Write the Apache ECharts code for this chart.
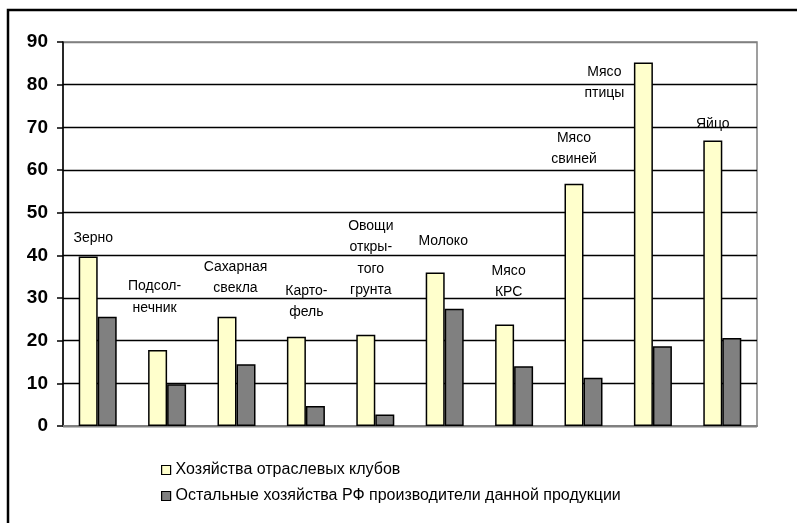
<!DOCTYPE html>
<html>
<head>
<meta charset="utf-8">
<script src="https://cdn.jsdelivr.net/npm/echarts@6/dist/echarts.min.js"></script>
<style>
html,body{margin:0;padding:0;background:#fff;}
#chart{width:797px;height:523px;}
</style>
</head>
<body>
<div id="chart"></div>
<script>
var categories = ['Зерно', 'Подсол-\nнечник', 'Сахарная\nсвекла', 'Карто-\nфель', 'Овощи\nоткры-\nтого\nгрунта', 'Молоко', 'Мясо\nКРС', 'Мясо\nсвиней', 'Мясо\nптицы', 'Яйцо'];
var clubFarms = [39.7, 17.8, 25.6, 20.9, 21.4, 36.0, 23.8, 56.8, 85.2, 66.9];
var otherFarms = [25.6, 9.8, 14.5, 4.7, 2.7, 27.5, 14.0, 11.3, 18.7, 20.6];
var yTicks = [0, 10, 20, 30, 40, 50, 60, 70, 80, 90];
var seriesNames = ['Хозяйства отраслевых клубов', 'Остальные хозяйства РФ производители данной продукции'];

// label placement (style only)
var labelOffsets = [[5, -7.5], [-3, -31.5], [8.5, -17.5], [10, -13.5], [5, -33.5], [8, -20.5], [4, -21.5], [0, -13.5], [-39, 41.5], [0, -5.5]];

var chart = echarts.init(document.getElementById('chart'));
var font = '"Liberation Sans", Arial, sans-serif';

var clubData = clubFarms.map(function (v, i) {
  return {
    value: v,
    label: {
      show: true,
      position: 'top',
      distance: 0,
      offset: labelOffsets[i],
      formatter: categories[i]
    }
  };
});

var option = {
  animation: false,
  backgroundColor: '#fff',
  textStyle: { fontFamily: font },
  grid: { left: 63, right: 40, top: 42, bottom: 97, show: true, borderColor: '#808080', borderWidth: 1.5, backgroundColor: 'transparent' },
  legend: {
    orient: 'vertical',
    left: 156,
    top: 456,
    itemWidth: 9,
    itemHeight: 9,
    itemGap: 8,
    icon: 'rect',
    textStyle: { fontFamily: font, fontSize: 16, color: '#000', lineHeight: 18 },
    itemStyle: { borderColor: '#000', borderWidth: 1.2 },
    data: seriesNames
  },
  xAxis: {
    type: 'category',
    data: categories,
    axisLine: { show: true, lineStyle: { color: '#808080', width: 2 } },
    axisTick: { show: false },
    axisLabel: { show: false },
    splitLine: { show: false }
  },
  yAxis: {
    type: 'value',
    min: 0,
    max: 90,
    interval: 10,
    axisLine: { show: true, lineStyle: { color: '#000', width: 1.5 } },
    axisTick: { show: true, length: 6, inside: false, lineStyle: { color: '#000', width: 1.5 } },
    axisLabel: {
      margin: 15,
      fontFamily: font,
      fontSize: 19,
      fontWeight: 'bold',
      color: '#000',
      formatter: function (v) { return yTicks.indexOf(v) >= 0 ? String(v) : ''; }
    },
    splitLine: { show: true, lineStyle: { color: ['#000', '#000', '#000', '#000', '#000', '#000', '#000', '#000', '#000', '#808080'], width: 1.3 } }
  },
  series: [
    {
      name: seriesNames[0],
      type: 'bar',
      data: clubData,
      barWidth: 19,
      barGap: '0%',
      itemStyle: { color: '#FFFFCC', borderColor: '#000', borderWidth: 1.5 },
      label: { color: '#000', fontFamily: font, fontSize: 14, lineHeight: 21.5, align: 'center' },
      z: 3
    },
    {
      name: seriesNames[1],
      type: 'bar',
      data: otherFarms,
      barWidth: 19,
      barGap: '0%',
      itemStyle: { color: '#808080', borderColor: '#000', borderWidth: 1.5 },
      z: 3
    }
  ],
  graphic: [
    {
      type: 'rect',
      shape: { x: 8, y: 10, width: 830, height: 560 },
      style: { fill: 'none', stroke: '#000', lineWidth: 2.5 },
      silent: true
    }
  ]
};
chart.setOption(option);
</script>
</body>
</html>
